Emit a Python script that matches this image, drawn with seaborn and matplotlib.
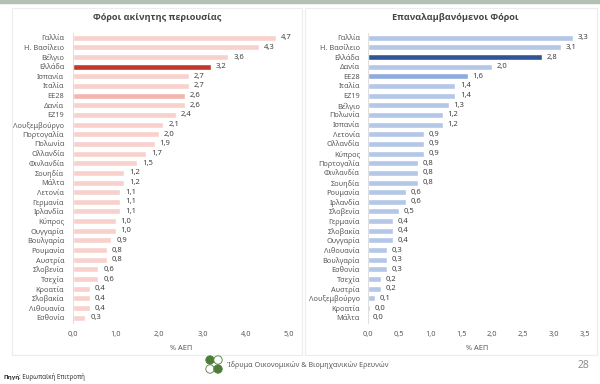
import matplotlib
matplotlib.use("Agg")
import matplotlib.pyplot as plt
import matplotlib.patches as mpatches
import seaborn as sns

sns.set_theme(style="white")
plt.rcParams['font.family'] = ['Noto Sans', 'DejaVu Sans']

# Left panel: property taxes (% of GDP)
prop_countries = ["Γαλλία", "Η. Βασίλειο", "Βέλγιο", "Ελλάδα", "Ισπανία", "Ιταλία", "ΕΕ28",
                  "Δανία", "ΕΖ19", "Λουξεμβούργο", "Πορτογαλία", "Πολωνία", "Ολλανδία",
                  "Φινλανδία", "Σουηδία", "Μάλτα", "Λετονία", "Γερμανία", "Ιρλανδία", "Κύπρος",
                  "Ουγγαρία", "Βουλγαρία", "Ρουμανία", "Αυστρία", "Σλοβενία", "Τσεχία",
                  "Κροατία", "Σλοβακία", "Λιθουανία", "Εσθονία"]
prop_values = [4.7, 4.3, 3.6, 3.2, 2.7, 2.7, 2.6, 2.6, 2.4, 2.1, 2.0, 1.9, 1.7, 1.5, 1.2,
               1.2, 1.1, 1.1, 1.1, 1.0, 1.0, 0.9, 0.8, 0.8, 0.6, 0.6, 0.4, 0.4, 0.4, 0.3]

# Right panel: recurrent taxes (% of GDP)
rec_countries = ["Γαλλία", "Η. Βασίλειο", "Ελλάδα", "Δανία", "ΕΕ28", "Ιταλία", "ΕΖ19",
                 "Βέλγιο", "Πολωνία", "Ισπανία", "Λετονία", "Ολλανδία", "Κύπρος",
                 "Πορτογαλία", "Φινλανδία", "Σουηδία", "Ρουμανία", "Ιρλανδία", "Σλοβενία",
                 "Γερμανία", "Σλοβακία", "Ουγγαρία", "Λιθουανία", "Βουλγαρία", "Εσθονία",
                 "Τσεχία", "Αυστρία", "Λουξεμβούργο", "Κροατία", "Μάλτα"]
rec_values = [3.3, 3.1, 2.8, 2.0, 1.6, 1.4, 1.4, 1.3, 1.2, 1.2, 0.9, 0.9, 0.9, 0.8, 0.8,
              0.8, 0.6, 0.6, 0.5, 0.4, 0.4, 0.4, 0.3, 0.3, 0.3, 0.2, 0.2, 0.1, 0.02, 0.0]

W, H = 600, 384
fig = plt.figure(figsize=(6.0, 3.84), dpi=100)
fig.patch.set_facecolor("white")


def px(x0, y0, x1, y1):
    # pixel box (top-left origin) -> figure fraction rect
    return [x0 / W, 1 - y1 / H, (x1 - x0) / W, (y1 - y0) / H]


# frame and panel borders
fig.patches.append(mpatches.Rectangle((0, 1 - 3 / H), 1, 3 / H, transform=fig.transFigure,
                                      color="#b3c0b4", zorder=0))
for bx in [(12, 302), (305, 597)]:
    fig.patches.append(mpatches.Rectangle((bx[0] / W, 1 - 355 / H), (bx[1] - bx[0]) / W,
                                          (355 - 8) / H, transform=fig.transFigure,
                                          fill=False, edgecolor="#ececec", lw=0.8, zorder=0))


def panel(rect, cats, vals, base, hl, mid, xmax, step, title, title_x):
    ax = fig.add_axes(rect)
    pal = {c: base for c in cats}
    pal["Ελλάδα"] = hl
    pal["ΕΕ28"] = mid
    sns.barplot(x=vals, y=cats, hue=cats, palette=pal, legend=False, orient="h",
                width=0.62, saturation=1, ax=ax)
    ax.set_xlim(0, xmax)
    ax.set_ylim(len(cats) - 0.5, -0.5)
    ticks = [i * step for i in range(int(round(xmax / step)) + 1)]
    ax.set_xticks(ticks)
    ax.set_xticklabels([f"{t:.1f}".replace(".", ",") for t in ticks])
    ax.tick_params(axis="both", labelsize=5.3, colors="#595959", length=0, pad=6)
    ax.set_xlabel("% ΑΕΠ", fontsize=5.3, color="#595959", labelpad=5)
    ax.set_ylabel("")
    for s in ["top", "right", "bottom"]:
        ax.spines[s].set_visible(False)
    ax.spines["left"].set_color("#d9d9d9")
    ax.spines["left"].set_linewidth(0.6)
    ax.grid(False)
    for i, v in enumerate(vals):
        ax.text(v + xmax * 0.022, i, f"{v:.1f}".replace(".", ","), va="center", ha="left",
                fontsize=5.5, color="#404040")
    fig.text(title_x / W, 1 - 17 / H, title, ha="center", va="center", fontsize=6.6,
             fontweight="bold", color="#454545", family=["Open Sans", "DejaVu Sans"])
    return ax


panel(px(72.5, 32.9, 289, 322.5), prop_countries, prop_values, "#f8d0cc", "#c0392b",
      "#f3b5ae", 5.0, 1.0, "Φόροι ακίνητης περιουσίας", 157)
panel(px(368.3, 32.9, 585.3, 322.5), rec_countries, rec_values, "#b4c7e7", "#2f5597",
      "#8faadc", 3.5, 0.5, "Επαναλαμβανόμενοι Φόροι", 455)

# footer
fig.text(4 / W, 1 - 377 / H, "Πηγή", fontsize=4.5, fontweight="bold", color="#333333",
         va="center", family=["Open Sans", "DejaVu Sans"])
fig.text(19 / W, 1 - 377 / H, ": Ευρωπαϊκή Επιτροπή", fontsize=4.5, color="#333333",
         va="center")
for (cx, cy, filled) in [(210, 360, True), (218, 360, False), (210, 369, False), (218, 369, True)]:
    fig.patches.append(mpatches.Circle((cx / 100, (H - cy) / 100), 0.042,
                                       transform=fig.dpi_scale_trans,
                                       facecolor="#4e7d3a" if filled else "white",
                                       edgecolor="#4e7d3a", lw=0.6))
fig.text(227 / W, 1 - 365 / H, "Ίδρυμα Οικονομικών & Βιομηχανικών Ερευνών", fontsize=5.2,
         color="#5a5a5a", va="center")
fig.text(578 / W, 1 - 366 / H, "28", fontsize=7.5, color="#8c8c8c", va="center")

fig.savefig("out.png", dpi=100, facecolor="white")
